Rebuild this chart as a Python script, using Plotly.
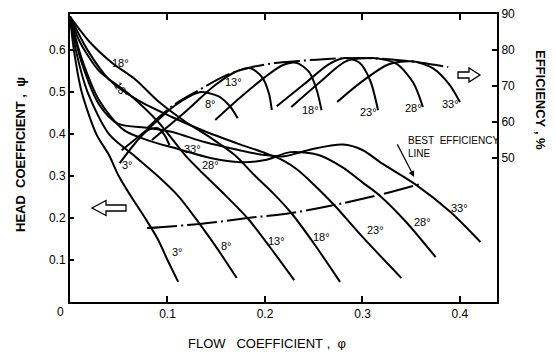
import plotly.graph_objects as go

# ---------------- data ----------------
angles = ["3°", "8°", "13°", "18°", "23°", "28°", "33°"]

# head coefficient psi vs flow coefficient phi, one curve per blade angle
head_phi_3 = [0, 0.004, 0.012, 0.027, 0.04, 0.05, 0.063, 0.077, 0.09, 0.1, 0.111]
head_psi_3 = [0.68, 0.6, 0.5, 0.4, 0.35, 0.3, 0.25, 0.2, 0.15, 0.1, 0.048]
head_phi_8 = [0, 0.006, 0.018, 0.04, 0.065, 0.09, 0.112, 0.133, 0.152, 0.171]
head_psi_8 = [0.68, 0.6, 0.5, 0.4, 0.35, 0.3, 0.25, 0.186, 0.124, 0.057]
head_phi_13 = [0, 0.01, 0.03, 0.058, 0.09, 0.118, 0.133, 0.156, 0.182, 0.205, 0.23]
head_psi_13 = [0.68, 0.62, 0.55, 0.5, 0.43, 0.35, 0.314, 0.262, 0.2, 0.131, 0.052]
head_phi_18 = [0, 0.02, 0.043, 0.067, 0.092, 0.118, 0.145, 0.169, 0.19, 0.208, 0.227, 0.25, 0.277]
head_psi_18 = [0.68, 0.62, 0.57, 0.53, 0.475, 0.43, 0.39, 0.35, 0.3, 0.26, 0.212, 0.14, 0.048]
head_phi_23 = [0, 0.018, 0.04, 0.07, 0.105, 0.14, 0.175, 0.2, 0.218, 0.234, 0.25, 0.271, 0.3, 0.34]
head_psi_23 = [0.68, 0.6, 0.53, 0.48, 0.44, 0.405, 0.375, 0.355, 0.338, 0.314, 0.28, 0.231, 0.155, 0.057]
head_phi_28 = [0, 0.012, 0.03, 0.055, 0.08, 0.11, 0.144, 0.175, 0.2, 0.226, 0.255, 0.28, 0.3, 0.317, 0.345, 0.375]
head_psi_28 = [0.68, 0.58, 0.48, 0.41, 0.385, 0.365, 0.343, 0.333, 0.338, 0.357, 0.35, 0.32, 0.285, 0.255, 0.19, 0.107]
head_phi_33 = [0, 0.012, 0.03, 0.049, 0.08, 0.105, 0.138, 0.173, 0.2, 0.22, 0.248, 0.28, 0.3, 0.32, 0.355, 0.39, 0.421]
head_psi_33 = [0.68, 0.57, 0.47, 0.425, 0.415, 0.405, 0.381, 0.362, 0.35, 0.347, 0.364, 0.375, 0.362, 0.33, 0.279, 0.215, 0.143]

# efficiency (%) vs flow coefficient phi, one curve per blade angle
eff_phi_3 = [0.051, 0.067, 0.08, 0.09, 0.097, 0.102]
eff_val_3 = [48.6, 54.2, 57.8, 58.3, 56.4, 53.6]
eff_phi_8 = [0.053, 0.082, 0.108, 0.133, 0.152, 0.164, 0.172]
eff_val_8 = [52.2, 58.6, 64.7, 68.3, 67.2, 64.4, 61.1]
eff_phi_13 = [0.084, 0.118, 0.149, 0.17, 0.185, 0.197, 0.204, 0.207]
eff_val_13 = [55.0, 62.8, 70.3, 74.0, 75.0, 72.5, 68.0, 63.3]
eff_phi_18 = [0.149, 0.174, 0.2, 0.218, 0.232, 0.245, 0.253, 0.258]
eff_val_18 = [60.6, 66.7, 72.5, 75.8, 76.5, 74.0, 69.0, 63.3]
eff_phi_23 = [0.212, 0.24, 0.265, 0.282, 0.297, 0.308, 0.316]
eff_val_23 = [64.4, 70.5, 76.0, 77.8, 76.5, 71.5, 63.3]
eff_phi_28 = [0.227, 0.255, 0.283, 0.31, 0.335, 0.352, 0.362]
eff_val_28 = [64.2, 70.8, 76.9, 77.8, 76.2, 71.0, 64.2]
eff_phi_33 = [0.274, 0.3, 0.327, 0.351, 0.372, 0.389, 0.4]
eff_val_33 = [65.6, 71.4, 76.1, 76.9, 75.0, 70.5, 65.6]

# envelope of peak efficiencies (dash-dot)
env_phi = [0.08, 0.105, 0.133, 0.16, 0.185, 0.21, 0.235, 0.26, 0.3, 0.33, 0.36, 0.388]
env_val = [58.5, 64.5, 69.0, 73.0, 75.2, 76.4, 77.0, 77.5, 77.8, 77.4, 76.5, 75.3]

# best efficiency line on the head curves
bel_phi = [0.079, 0.133, 0.182, 0.227, 0.271, 0.317, 0.362]
bel_psi = [0.176, 0.186, 0.2, 0.212, 0.231, 0.255, 0.283]

# curve labels
head_lbl_text = ["18°", "13°", "33°", "28°", "3°", "8°", "13°", "18°", "23°", "28°", "33°"]
head_lbl_phi = [0.052, 0.053, 0.126, 0.144, 0.110, 0.161, 0.212, 0.258, 0.313, 0.362, 0.400]
head_lbl_psi = [0.569, 0.505, 0.364, 0.326, 0.119, 0.133, 0.145, 0.155, 0.171, 0.190, 0.224]
head_lbl_angle = [0, 55, 0, 0, 0, 0, 0, 0, 0, 0, 0]

eff_lbl_text = ["3°", "8°", "13°", "18°", "23°", "28°", "33°"]
eff_lbl_phi = [0.059, 0.144, 0.168, 0.247, 0.306, 0.352, 0.390]
eff_lbl_val = [48.1, 65.0, 71.1, 63.3, 62.8, 63.9, 65.0]

x_ticks = [0.1, 0.2, 0.3, 0.4]
psi_ticks = [0.1, 0.2, 0.3, 0.4, 0.5, 0.6]
eff_ticks = [50, 60, 70, 80, 90]

# ---------------- figure ----------------
FONT = "Liberation Sans, Arial, sans-serif"
head_phi = [head_phi_3, head_phi_8, head_phi_13, head_phi_18, head_phi_23, head_phi_28, head_phi_33]
head_psi = [head_psi_3, head_psi_8, head_psi_13, head_psi_18, head_psi_23, head_psi_28, head_psi_33]
eff_phi = [eff_phi_3, eff_phi_8, eff_phi_13, eff_phi_18, eff_phi_23, eff_phi_28, eff_phi_33]
eff_val = [eff_val_3, eff_val_8, eff_val_13, eff_val_18, eff_val_23, eff_val_28, eff_val_33]

fig = go.Figure()
line_style = dict(color="black", width=2, shape="spline", smoothing=0.8)
for name, xs, ys in zip(angles, head_phi, head_psi):
    fig.add_trace(go.Scatter(x=xs, y=ys, mode="lines", name="head " + name,
                             line=line_style, hoverinfo="skip"))
for name, xs, ys in zip(angles, eff_phi, eff_val):
    fig.add_trace(go.Scatter(x=xs, y=ys, mode="lines", name="eff " + name, yaxis="y2",
                             line=line_style, hoverinfo="skip"))
fig.add_trace(go.Scatter(x=env_phi, y=env_val, mode="lines", yaxis="y2", name="envelope",
                         line=dict(color="black", width=2, shape="spline",
                                   dash="26px,4px,2px,4px"), hoverinfo="skip"))
fig.add_trace(go.Scatter(x=bel_phi, y=bel_psi, mode="lines", name="best efficiency line",
                         line=dict(color="black", width=2, shape="spline",
                                   dash="30px,4px,2px,4px"), hoverinfo="skip"))

annotations = []
for t, x, y, a in zip(head_lbl_text, head_lbl_phi, head_lbl_psi, head_lbl_angle):
    annotations.append(dict(text=t, x=x, y=y, xref="x", yref="y", showarrow=False,
                            xanchor="center", yanchor="middle",
                            textangle=a, font=dict(family=FONT, size=11, color="black")))
for t, x, y in zip(eff_lbl_text, eff_lbl_phi, eff_lbl_val):
    annotations.append(dict(text=t, x=x, y=y, xref="x", yref="y2", showarrow=False,
                            xanchor="center", yanchor="middle",
                            font=dict(family=FONT, size=11, color="black")))

# plot-area geometry in window pixels (page body adds an 8px offset)
OFF = 8
L, R, T, B = 70, 497, 14, 302
def px(x, y):
    return (x - L) / (R - L), (B - y) / (B - T)

def ann_px(text, x, y, **kw):
    xp, yp = px(x, y)
    d = dict(text=text, x=xp, y=yp, xref="paper", yref="paper", showarrow=False,
             xanchor="center", yanchor="middle")
    d.update(kw)
    return d

annotations.append(ann_px("<b>HEAD\u00a0\u00a0COEFFICIENT\u00a0,\u00a0\u00a0ψ</b>", 20, 155, textangle=-90,
                          font=dict(family=FONT, size=13, color="black")))
annotations.append(ann_px("FLOW\u00a0\u00a0\u00a0COEFFICIENT\u00a0,\u00a0\u00a0φ", 267, 343,
                          font=dict(family=FONT, size=13, color="black")))
annotations.append(ann_px("<b>EFFICIENCY\u00a0,\u00a0%</b>", 541, 100, textangle=90,
                          font=dict(family=FONT, size=13, color="black")))
annotations.append(ann_px("0", 60, 312, font=dict(family=FONT, size=12, color="black")))
annotations.append(ann_px("BEST\u00a0\u00a0EFFICIENCY<br>LINE", 406, 147, xanchor="left", align="left",
                          font=dict(family=FONT, size=10, color="black")))
annotations.append(dict(text="", x=0.353, y=0.298, xref="x", yref="y", ax=0.335, ay=0.379,
                        axref="x", ayref="y", showarrow=True, arrowhead=2, arrowsize=1,
                        arrowwidth=1.2, arrowcolor="black"))

def path_px(points):
    s = ""
    for i, (x, y) in enumerate(points):
        xp, yp = px(x, y)
        s += ("M" if i == 0 else "L") + f"{xp:.4f},{yp:.4f} "
    return s + "Z"

left_arrow = [(92, 208), (106, 200.5), (106, 205), (126, 205), (126, 211), (106, 211), (106, 215.5)]
right_arrow = [(480, 75), (469, 68), (469, 72), (458, 72), (458, 78), (469, 78), (469, 82)]
shapes = [dict(type="path", path=path_px(p), xref="paper", yref="paper",
               line=dict(color="black", width=1.3), fillcolor="white")
          for p in (left_arrow, right_arrow)]

W, H = 556 - 2 * OFF, 358 - 2 * OFF
tickfont = dict(family=FONT, size=12, color="black")
fig.update_layout(
    width=W, height=H,
    margin=dict(l=L - OFF, r=W - (R - OFF), t=T - OFF, b=H - (B - OFF), autoexpand=False),
    paper_bgcolor="white", plot_bgcolor="white", showlegend=False,
    annotations=annotations, shapes=shapes,
    xaxis=dict(range=[0, 0.438], tickvals=x_ticks, ticktext=[f"{v:.1f}" for v in x_ticks],
               ticks="inside", ticklen=6, tickwidth=2, tickcolor="black",
               showline=True, linewidth=2, linecolor="black", mirror="ticks",
               showgrid=False, zeroline=False, tickfont=tickfont),
    yaxis=dict(range=[0, 0.686], tickvals=psi_ticks, ticktext=[f"{v:.1f}" for v in psi_ticks],
               ticks="inside", ticklen=4, tickwidth=2, tickcolor="black",
               showline=True, linewidth=2, linecolor="black",
               showgrid=False, zeroline=False, tickfont=tickfont),
    yaxis2=dict(range=[10, 90.05], tickvals=eff_ticks, overlaying="y", side="right",
                ticks="inside", ticklen=5, tickwidth=2, tickcolor="black",
                ticklabeloverflow="allow",
                showline=True, linewidth=2, linecolor="black",
                showgrid=False, zeroline=False, tickfont=tickfont),
)

fig.write_html("out.html")
